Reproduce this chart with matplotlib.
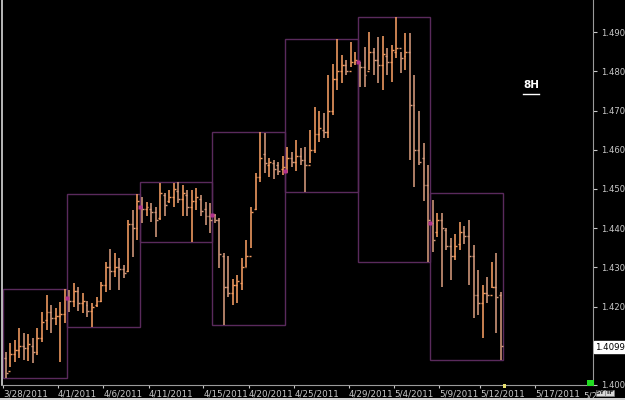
import numpy as np
import matplotlib
matplotlib.use("Agg")
import matplotlib.pyplot as plt
from matplotlib.patches import Rectangle
from matplotlib.transforms import Bbox, TransformedBbox

# 8H EUR/USD style bars, one list per field, grouped by week
opens = [1.4070, 1.4035, 1.4080, 1.4090, 1.4100, 1.4095, 1.4100, 1.4085, 1.4120, 1.4165, 1.4185, 1.4170, 1.4175, 1.4180,
         1.4222, 1.4215, 1.4240, 1.4210, 1.4205, 1.4190, 1.4205, 1.4215, 1.4255, 1.4300, 1.4290, 1.4300, 1.4295, 1.4290, 1.4410, 1.4400,
         1.4455, 1.4450, 1.4450, 1.4440, 1.4425, 1.4485, 1.4470, 1.4480, 1.4495, 1.4475, 1.4485, 1.4455, 1.4470, 1.4475, 1.4450, 1.4430,
         1.4434, 1.4420, 1.4330, 1.4250, 1.4235, 1.4255, 1.4260, 1.4300, 1.4330, 1.4450, 1.4530, 1.4590, 1.4560, 1.4565, 1.4560, 1.4550,
         1.4546, 1.4580, 1.4570, 1.4585, 1.4575, 1.4560, 1.4600, 1.4640, 1.4650, 1.4645, 1.4700, 1.4780, 1.4800, 1.4815, 1.4800, 1.4825,
         1.4824, 1.4810, 1.4800, 1.4850, 1.4830, 1.4815, 1.4840, 1.4825, 1.4850, 1.4860, 1.4840, 1.4850, 1.4715, 1.4600, 1.4580, 1.4510,
         1.4413, 1.4390, 1.4420, 1.4395, 1.4355, 1.4330, 1.4360, 1.4390, 1.4380, 1.4330, 1.4230, 1.4210, 1.4235, 1.4230, 1.4250, 1.4230]
highs = [1.4084, 1.4107, 1.4115, 1.4145, 1.4133, 1.4130, 1.4120, 1.4145, 1.4186, 1.4230, 1.4204, 1.4196, 1.4212, 1.4244,
         1.4242, 1.4260, 1.4250, 1.4235, 1.4215, 1.4210, 1.4224, 1.4263, 1.4314, 1.4347, 1.4337, 1.4324, 1.4306, 1.4421, 1.4447, 1.4486,
         1.4480, 1.4467, 1.4464, 1.4455, 1.4516, 1.4490, 1.4497, 1.4516, 1.4519, 1.4510, 1.4497, 1.4497, 1.4502, 1.4485, 1.4468, 1.4464,
         1.4436, 1.4426, 1.4336, 1.4330, 1.4270, 1.4280, 1.4324, 1.4370, 1.4454, 1.4540, 1.4646, 1.4643, 1.4580, 1.4575, 1.4570, 1.4585,
         1.4607, 1.4595, 1.4625, 1.4605, 1.4607, 1.4650, 1.4710, 1.4700, 1.4694, 1.4790, 1.4820, 1.4882, 1.4842, 1.4830, 1.4875, 1.4850,
         1.4824, 1.4862, 1.4900, 1.4860, 1.4888, 1.4890, 1.4860, 1.4867, 1.4938, 1.4850, 1.4898, 1.4898, 1.4790, 1.4700, 1.4617, 1.4560,
         1.4472, 1.4439, 1.4439, 1.4400, 1.4375, 1.4385, 1.4416, 1.4405, 1.4421, 1.4357, 1.4293, 1.4255, 1.4276, 1.4314, 1.4337, 1.4237]
lows = [1.4018, 1.4046, 1.4059, 1.4069, 1.4064, 1.4060, 1.4056, 1.4077, 1.4110, 1.4140, 1.4133, 1.4153, 1.4059, 1.4158,
        1.4186, 1.4200, 1.4190, 1.4184, 1.4173, 1.4149, 1.4200, 1.4212, 1.4237, 1.4242, 1.4276, 1.4242, 1.4273, 1.4288, 1.4327, 1.4370,
        1.4413, 1.4430, 1.4416, 1.4378, 1.4421, 1.4430, 1.4464, 1.4455, 1.4464, 1.4430, 1.4430, 1.4364, 1.4446, 1.4430, 1.4408, 1.4388,
        1.4413, 1.4298, 1.4153, 1.4225, 1.4204, 1.4210, 1.4242, 1.4300, 1.4350, 1.4447, 1.4518, 1.4540, 1.4530, 1.4525, 1.4535, 1.4535,
        1.4540, 1.4555, 1.4545, 1.4560, 1.4492, 1.4566, 1.4592, 1.4620, 1.4630, 1.4630, 1.4689, 1.4753, 1.4770, 1.4790, 1.4811, 1.4815,
        1.4760, 1.4760, 1.4804, 1.4790, 1.4770, 1.4753, 1.4790, 1.4773, 1.4834, 1.4795, 1.4804, 1.4574, 1.4505, 1.4560, 1.4470, 1.4313,
        1.4339, 1.4378, 1.4250, 1.4344, 1.4268, 1.4320, 1.4344, 1.4360, 1.4255, 1.4171, 1.4179, 1.4120, 1.4210, 1.4247, 1.4133, 1.4063]
closes = [1.4030, 1.4080, 1.4090, 1.4100, 1.4095, 1.4105, 1.4085, 1.4120, 1.4160, 1.4185, 1.4170, 1.4175, 1.4180, 1.4220,
          1.4215, 1.4240, 1.4210, 1.4215, 1.4190, 1.4200, 1.4215, 1.4255, 1.4300, 1.4290, 1.4300, 1.4295, 1.4285, 1.4410, 1.4400, 1.4470,
          1.4450, 1.4455, 1.4440, 1.4420, 1.4490, 1.4460, 1.4480, 1.4500, 1.4475, 1.4490, 1.4455, 1.4470, 1.4480, 1.4445, 1.4430, 1.4420,
          1.4420, 1.4335, 1.4250, 1.4235, 1.4255, 1.4265, 1.4300, 1.4330, 1.4440, 1.4530, 1.4580, 1.4565, 1.4570, 1.4550, 1.4545, 1.4555,
          1.4580, 1.4570, 1.4585, 1.4575, 1.4560, 1.4600, 1.4640, 1.4655, 1.4645, 1.4700, 1.4780, 1.4800, 1.4815, 1.4800, 1.4825, 1.4830,
          1.4810, 1.4790, 1.4850, 1.4830, 1.4815, 1.4845, 1.4825, 1.4855, 1.4860, 1.4835, 1.4850, 1.4715, 1.4600, 1.4570, 1.4510, 1.4420,
          1.4370, 1.4420, 1.4400, 1.4355, 1.4330, 1.4355, 1.4390, 1.4380, 1.4330, 1.4230, 1.4210, 1.4235, 1.4230, 1.4250, 1.4225, 1.4099]

# weekly range boxes: first bar of each week, bar count, week high / low / open
week_start = [0, 14, 30, 46, 62, 78, 94]
week_len = [14, 16, 16, 16, 16, 16, 16]
week_high = [1.4244, 1.4486, 1.4519, 1.4646, 1.4882, 1.4938, 1.4489]
week_low = [1.4018, 1.4149, 1.4364, 1.4153, 1.4492, 1.4313, 1.4063]
week_open = [1.4070, 1.4222, 1.4455, 1.4434, 1.4546, 1.4825, 1.4413]

date_labels = ['3/28/2011', '4/1/2011', '4/6/2011', '4/11/2011', '4/15/2011', '4/20/2011',
               '4/25/2011', '4/29/2011', '5/4/2011', '5/9/2011', '5/12/2011', '5/17/2011']
date_bars = [0, 12, 22, 32, 44, 54, 64, 76, 86, 96, 105, 117.1]
last_label = '5/23/2011'
last_bar = 127.6

# 1.4100 sits under the last-price flag, so it is not labelled
price_ticks = [1.40, 1.42, 1.43, 1.44, 1.45, 1.46, 1.47, 1.48, 1.49]

W, H = 625, 400
fig = plt.figure(figsize=(W / 100, H / 100), dpi=100, facecolor='black')
ax = fig.add_axes([2 / W, 15 / H, 591 / W, 385 / H], facecolor='black')

x = np.arange(len(closes))
o = np.array(opens); c = np.array(closes)
up = c >= o
col_up = '#f59d62'
col_dn = '#d49a7c'
colors = np.where(up, col_up, col_dn)

# weekly boxes under the bars
for s, n, hi, lo, wo in zip(week_start, week_len, week_high, week_low, week_open):
    ax.add_patch(Rectangle((s - 0.5, lo), n, hi - lo, fill=False,
                           edgecolor='#5a2a5c', lw=1.0, zorder=1))
    if s > 0:
        ax.plot(s - 0.5, wo, marker='s', ms=2.2, color='#b0308e', mec='none', zorder=4)

ax.vlines(x, lows, highs, colors=colors, lw=1.15, zorder=3)
ax.hlines(opens, x - 0.42, x, colors=colors, lw=1.0, zorder=3)
ax.hlines(closes, x, x + 0.42, colors=colors, lw=1.0, zorder=3)

ax.set_xlim(-0.815, 129.3)
ax.set_ylim(1.4000, 1.4982)

ax.spines['top'].set_visible(False)
ax.spines['left'].set_color('#d8d8d8')
ax.spines['left'].set_linewidth(1.2)
ax.spines['right'].set_color('#9a9a9a')
ax.spines['bottom'].set_color('#9a9a9a')

ax.yaxis.tick_right()
ax.set_yticks(price_ticks)
ax.set_yticklabels(['%.4f' % p for p in price_ticks])
ax.tick_params(axis='y', colors='#c8c8c8', labelsize=6.1, length=3, pad=3, width=0.8)

ax.set_xticks([b - 0.5 for b in date_bars])
ax.set_xticklabels(date_labels)
for t in ax.get_xticklabels():
    t.set_horizontalalignment('left')
ax.tick_params(axis='x', colors='#c8c8c8', labelsize=6.3, length=2, pad=1.5, width=0.8)

# last, partly hidden date label
lt = ax.text(last_bar - 0.5, -0.018, last_label, transform=ax.get_xaxis_transform(),
             color='#c8c8c8', fontsize=6.3, ha='left', va='top', clip_on=True)
lt.set_clip_box(TransformedBbox(Bbox([[0, 0], [596 / W, 1]]), fig.transFigure))

# timeframe tag
ax.text(0.895, 0.778, '8H', transform=ax.transAxes, color='white', fontsize=7.5,
        fontweight='bold', ha='center', va='center')
ax.plot([0.881, 0.909], [0.757, 0.757], transform=ax.transAxes, color='white', lw=1.0)

# last price flag
fig.text(595 / W, 1 - 347 / H, '%.4f' % closes[-1], color='black', fontsize=6.2,
         ha='left', va='center',
         bbox=dict(boxstyle='square,pad=0.15', fc='white', ec='white'))

# small markers on the axes
fig.patches.append(Rectangle((587 / W, 1 - 386 / H), 7 / W, 6 / H, transform=fig.transFigure,
                             facecolor='#22dd22', edgecolor='none', zorder=5))
fig.patches.append(Rectangle((503 / W, 1 - 388 / H), 3 / W, 4 / H, transform=fig.transFigure,
                             facecolor='#e8e070', edgecolor='none', zorder=5))
for xx, lab in [(597, 'SY'), (606, 'TF')]:
    fig.text((xx + 3.5) / W, 1 - 393 / H, lab, color='#222222', fontsize=4.5, ha='center', va='center',
             fontweight='bold',
             bbox=dict(boxstyle='square,pad=0.05', fc='#d8d8d8', ec='#888888', lw=0.4), zorder=6)

# bottom strip
fig.patches.append(Rectangle((0, 0), 1, 2.5 / H, transform=fig.transFigure,
                             facecolor='#d0d0d0', edgecolor='none'))

fig.savefig('out.png', dpi=100, facecolor='black')
